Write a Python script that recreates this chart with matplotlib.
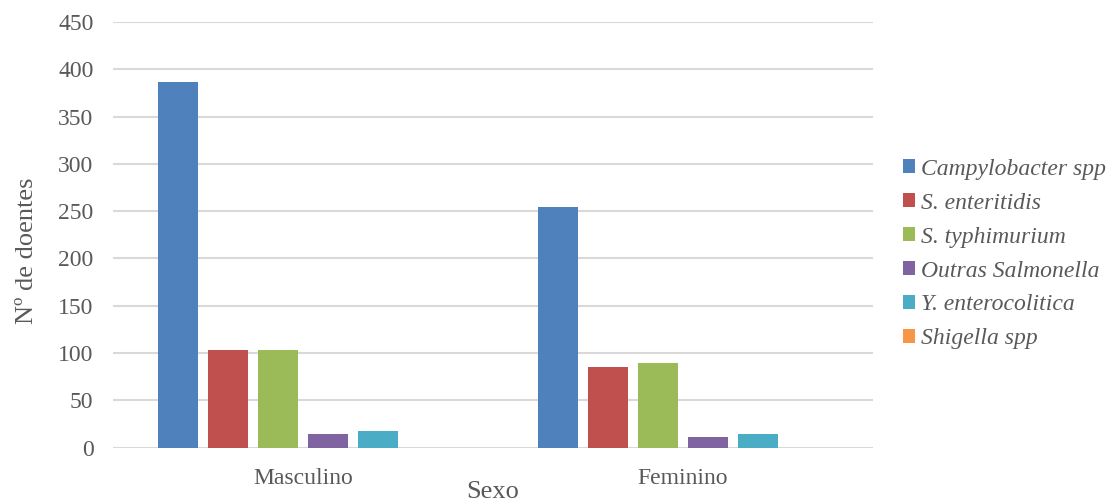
import numpy as np
import matplotlib
matplotlib.use("Agg")
import matplotlib.pyplot as plt
from matplotlib.patches import Patch

# data
sexo = ["Masculino", "Feminino"]
agentes = ["Campylobacter spp", "S. enteritidis", "S. typhimurium",
           "Outras Salmonella", "Y. enterocolitica", "Shigella spp"]
campylobacter = [387, 254]
s_enteritidis = [103, 85]
s_typhimurium = [103, 89]
outras_salmonella = [14, 11]
y_enterocolitica = [18, 14]
shigella = [0, 0]
series = [campylobacter, s_enteritidis, s_typhimurium,
          outras_salmonella, y_enterocolitica, shigella]
cores = ["#4F81BD", "#C0504D", "#9BBB59", "#8064A2", "#4BACC6", "#F79646"]

plt.rcParams['font.family'] = ['Liberation Serif', 'DejaVu Serif']
grey = "#595959"

fig = plt.figure(figsize=(11.18, 5.04), dpi=100)
ax = fig.add_axes([0.101, 0.112, 0.68, 0.844])

x = np.arange(len(sexo))
step = 50 / 380.
width = 40 / 380.
for i, (vals, c) in enumerate(zip(series, cores)):
    ax.bar(x + (i - 2.5) * step, vals, width, color=c, zorder=3)

ax.set_xlim(-0.5, 1.5)
ax.set_ylim(0, 450)
ax.set_yticks(np.arange(0, 451, 50))
ax.set_xticks(x)
ax.set_xticklabels(sexo)
ax.yaxis.grid(True, color="#d9d9d9", linewidth=1.5, zorder=0)
for s in ax.spines.values():
    s.set_visible(False)
ax.tick_params(length=0, labelsize=17, colors=grey)
ax.tick_params(axis='y', pad=14)
ax.tick_params(axis='x', pad=15)

ax.set_ylabel("Nº de doentes", fontsize=19, color=grey)
ax.yaxis.set_label_coords(-0.099, 0.462)
ax.set_xlabel("Sexo", fontsize=19, color=grey, labelpad=-6)

handles = [Patch(facecolor=c) for c in cores]
leg = fig.legend(handles, agentes, loc="center left", bbox_to_anchor=(0.789, 0.496),
                 frameon=False, handlelength=0.5, handleheight=0.5,
                 handletextpad=0.25, labelspacing=0.55,
                 prop={'style': 'italic', 'size': 17})
for t in leg.get_texts():
    t.set_color(grey)

fig.savefig("out.png", dpi=100)
